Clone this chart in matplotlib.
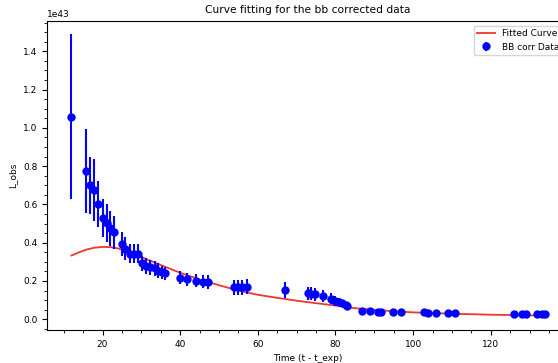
import matplotlib
matplotlib.use("Agg")
import matplotlib.pyplot as plt
import numpy as np

# observed (bb corrected) luminosities, in units of 1e43
t_obs = [11.9, 15.7, 16.8, 17.9, 18.9, 20.0, 21.1, 22.0, 22.9, 25.0, 25.8,
         27.0, 28.0, 29.1, 30.1, 31.1, 32.3, 33.4, 34.4, 35.3, 36.1,
         40.0, 41.7, 44.0, 45.8, 47.1, 53.8, 54.9, 56.0, 57.2, 67.1,
         72.9, 73.8, 74.8, 76.8, 78.9, 79.8, 80.8, 81.7, 82.7, 83.0,
         86.9, 89.0, 90.9, 91.8, 94.9, 97.0, 102.8, 103.8, 105.8, 109.0, 110.9,
         126.0, 128.0, 129.0, 132.0, 133.1, 133.9]
L_obs = [1.058, 0.776, 0.70, 0.675, 0.602, 0.53, 0.503, 0.475, 0.454, 0.393, 0.369,
         0.343, 0.343, 0.343, 0.292, 0.278, 0.271, 0.266, 0.254, 0.245, 0.240,
         0.217, 0.209, 0.202, 0.196, 0.195, 0.167, 0.167, 0.167, 0.170, 0.153,
         0.136, 0.134, 0.130, 0.122, 0.108, 0.096, 0.089, 0.083, 0.075, 0.069,
         0.043, 0.043, 0.040, 0.040, 0.040, 0.037, 0.037, 0.033, 0.033, 0.033, 0.033,
         0.029, 0.027, 0.027, 0.027, 0.027, 0.027]
L_err = [0.43, 0.22, 0.15, 0.16, 0.12, 0.10, 0.10, 0.09, 0.085, 0.065, 0.06,
         0.05, 0.05, 0.05, 0.04, 0.04, 0.04, 0.04, 0.04, 0.035, 0.035,
         0.035, 0.033, 0.033, 0.035, 0.035, 0.04, 0.04, 0.04, 0.04, 0.04,
         0.035, 0.035, 0.035, 0.03, 0.03, 0.025, 0.02, 0.015, 0.012, 0.01,
         0.005, 0.005, 0.005, 0.005, 0.005, 0.005, 0.005, 0.005, 0.005, 0.005, 0.005,
         0.004, 0.004, 0.004, 0.004, 0.004, 0.004]

# fitted model curve
t_fit = [12, 14, 16, 18, 20, 22, 24, 26, 28, 30, 33, 36, 40, 45, 50, 55, 60,
         65, 70, 75, 80, 85, 90, 95, 100, 110, 120, 126, 134]
L_fit = [0.333, 0.350, 0.365, 0.374, 0.378, 0.377, 0.370, 0.357, 0.342, 0.325,
         0.300, 0.275, 0.243, 0.208, 0.178, 0.150, 0.128, 0.112, 0.097, 0.084,
         0.072, 0.058, 0.049, 0.042, 0.036, 0.029, 0.024, 0.022, 0.019]

scale = 1e43
fig = plt.figure(figsize=(5.58, 3.63), dpi=100)
ax = fig.add_axes([47/558, 33/363, 521/558, 309/363])

ax.plot(t_fit, np.array(L_fit) * scale, color='#f0362b', lw=1.3, label='Fitted Curve')
ax.errorbar(t_obs, np.array(L_obs) * scale, yerr=np.array(L_err) * scale,
            fmt='o', color='blue', ms=5, elinewidth=1.5, label='BB corr Data')

ax.set_xlim(5.7, 139.9)
ax.set_ylim(-0.056e43, 1.558e43)
ax.minorticks_on()
ax.tick_params(labelsize=6.5)
ax.yaxis.get_offset_text().set_fontsize(6.5)
ax.set_title('Curve fitting for the bb corrected data', fontsize=7.7)
ax.set_xlabel('Time (t - t_exp)', fontsize=6.5)
ax.set_ylabel('L_obs', fontsize=6.5)
ax.legend(loc='upper right', fontsize=6.5)

fig.savefig('out.png', dpi=100)
